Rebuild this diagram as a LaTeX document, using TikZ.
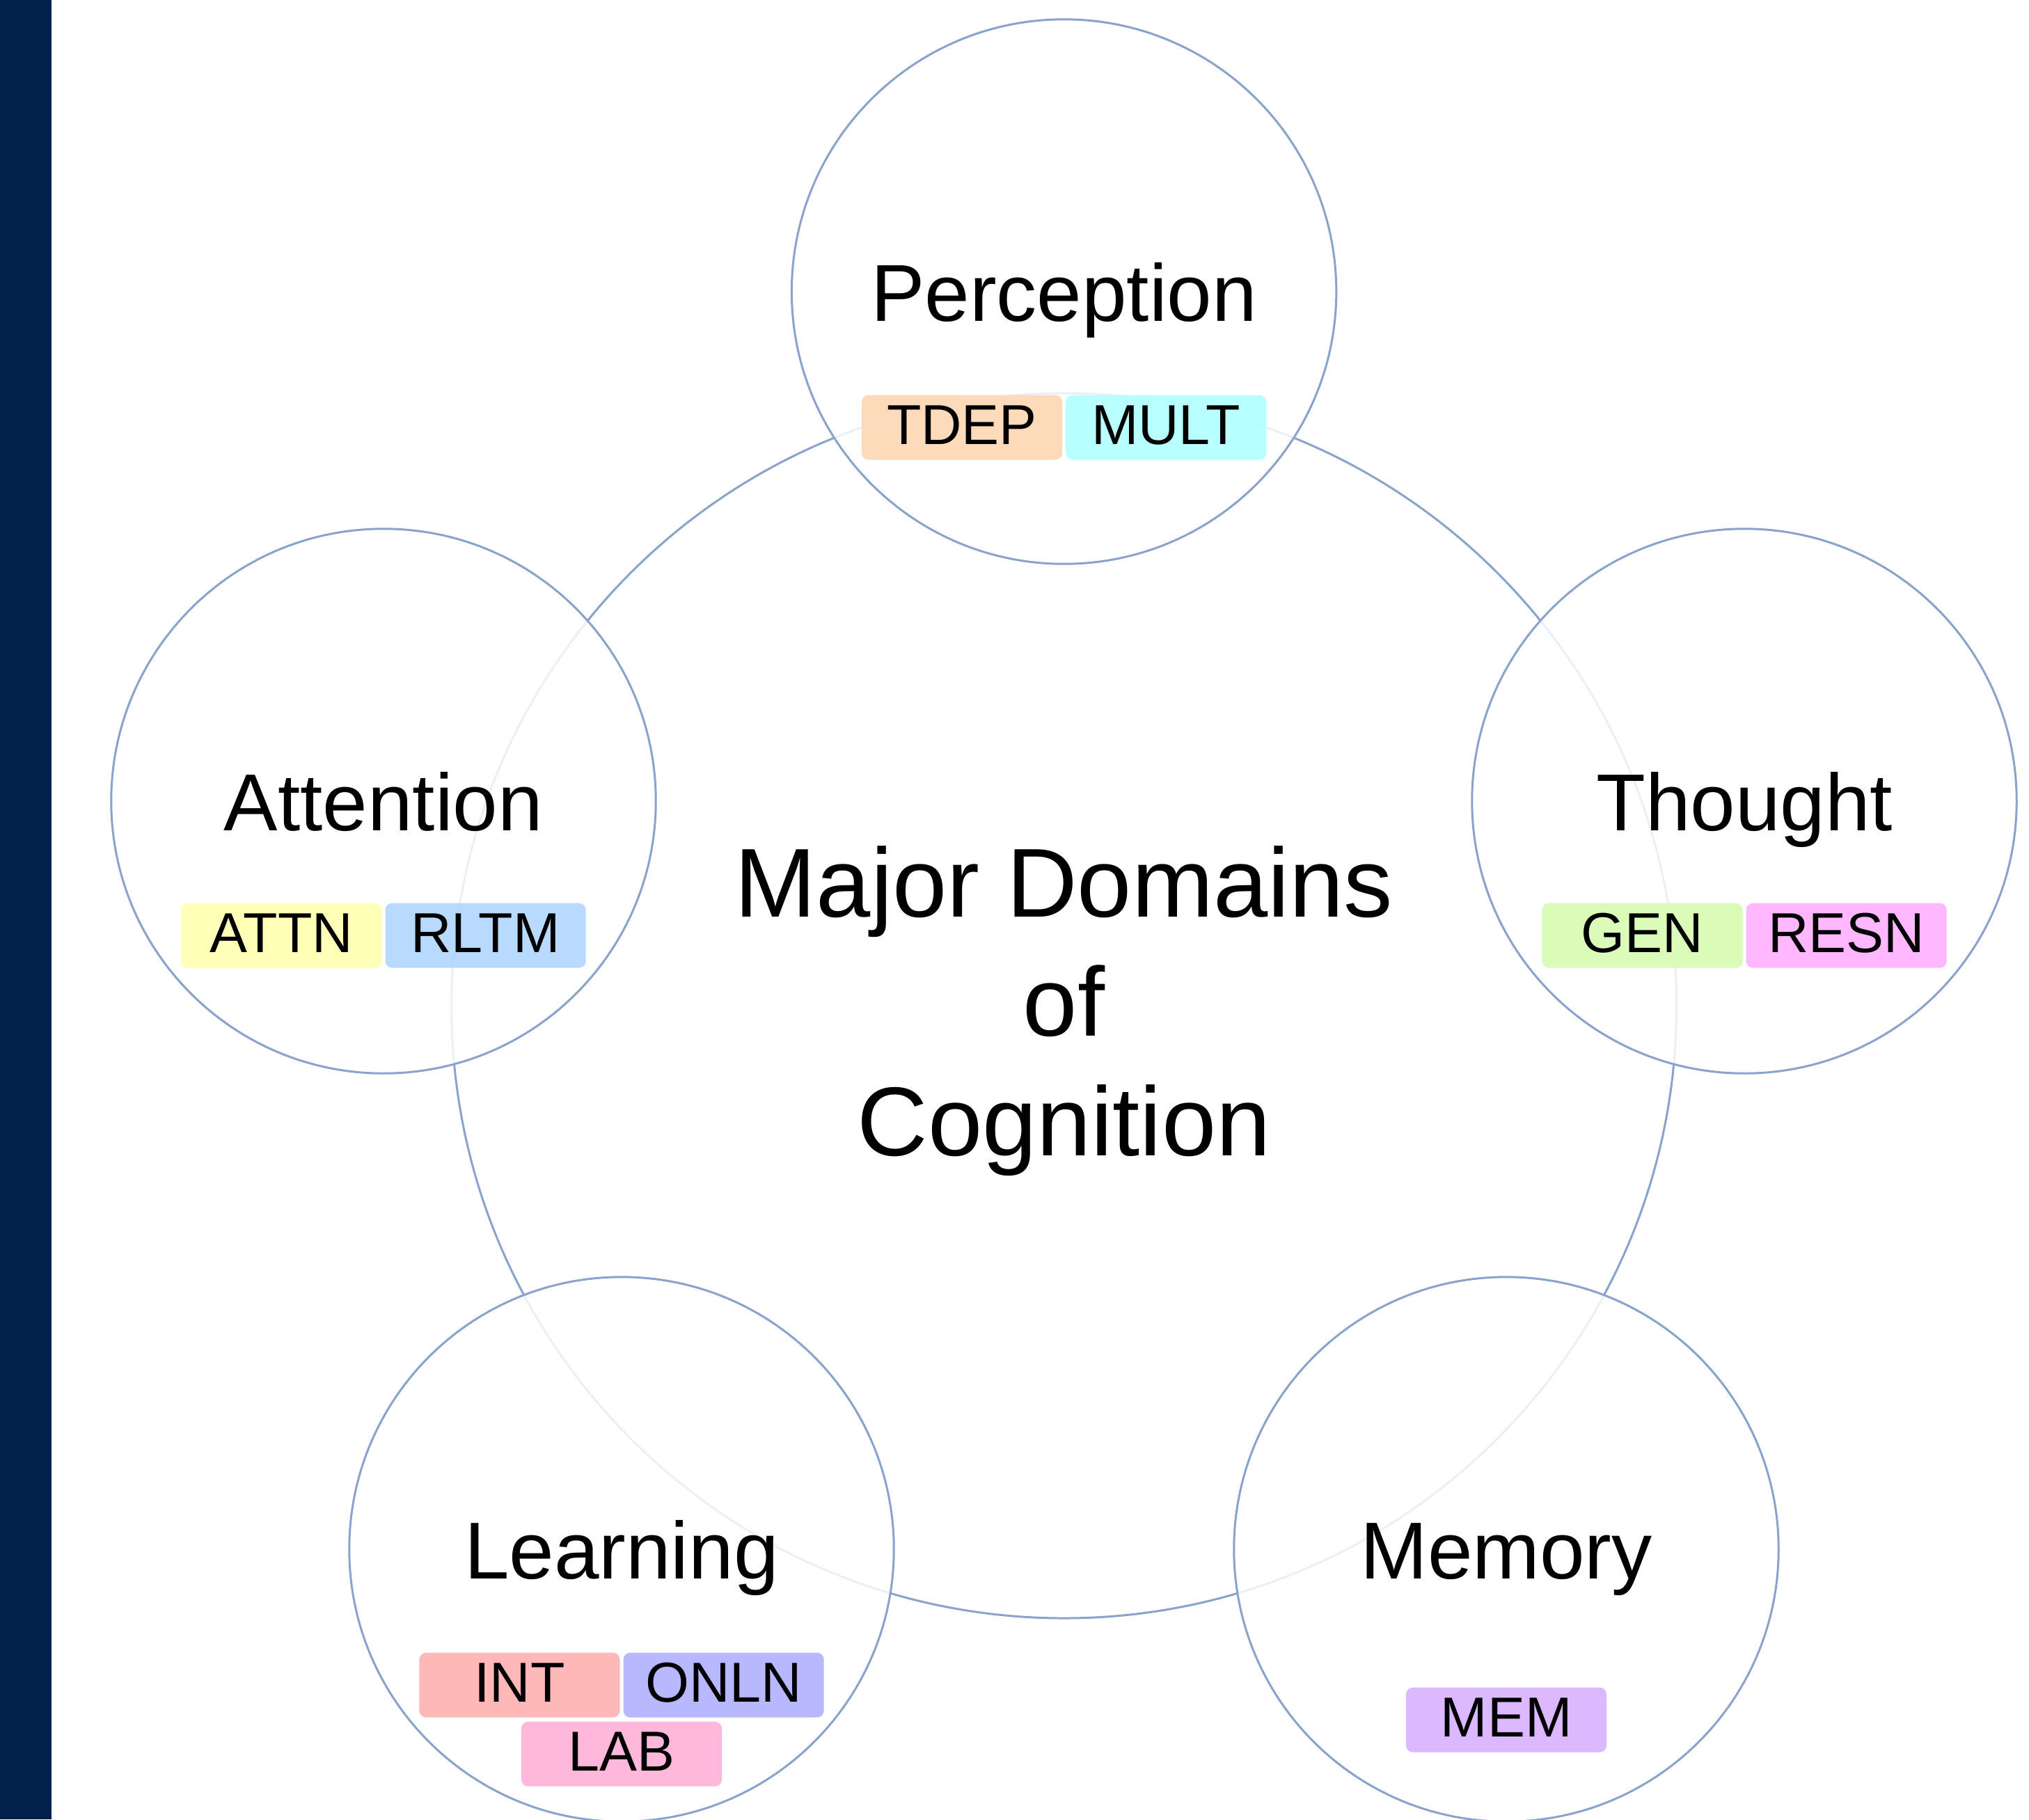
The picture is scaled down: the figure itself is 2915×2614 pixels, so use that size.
\documentclass[tikz,border=0pt]{standalone}
\usepackage{fontspec}
\setmainfont{Liberation Sans}
\definecolor{barnavy}{RGB}{2,34,77}
\definecolor{ringblue}{RGB}{138,163,204}
\definecolor{cTDEP}{RGB}{253,216,181}
\definecolor{cMULT}{RGB}{179,255,255}
\definecolor{cATTN}{RGB}{255,255,179}
\definecolor{cRLTM}{RGB}{179,215,255}
\definecolor{cGEN}{RGB}{217,251,180}
\definecolor{cRESN}{RGB}{255,179,255}
\definecolor{cINT}{RGB}{255,179,179}
\definecolor{cONLN}{RGB}{179,179,255}
\definecolor{cLAB}{RGB}{255,179,217}
\definecolor{cMEM}{RGB}{217,179,255}
\tikzset{
  corering/.style={circle, draw=ringblue, line width=0.85pt, minimum size=17.59cm, inner sep=0pt},
  domcircle/.style={circle, draw=ringblue, line width=0.85pt, fill=white, fill opacity=0.84,
    minimum size=7.82cm, inner sep=0pt},
  domlabel/.style={anchor=base, inner sep=0pt, font=\fontsize{33}{40}\selectfont},
  titleline/.style={anchor=base, inner sep=0pt, font=\fontsize{40}{48}\selectfont},
  tagbox/.style={rounded corners=0.1cm, fill=#1, fill opacity=0.92, text opacity=1,
    minimum width=2.88cm, minimum height=0.93cm, inner sep=0pt,
    text height=0.6cm, text depth=0.12cm, font=\fontsize{23}{27}\selectfont},
}
\begin{document}
\begin{tikzpicture}[x=0.01cm, y=-0.01cm]
  \useasboundingbox (0,0) rectangle (2915,2614);
  \fill[white] (0,0) rectangle (2915,2614);
  \fill[barnavy] (0,0) rectangle (74,2614);

  % central ring and title
  \node[corering] (core) at (1528.6,1445) {};
  \node[titleline] (t1) at (1528.6,1317) {Major Domains};
  \node[titleline] (t2) at (1528.6,1488) {of};
  \node[titleline] (t3) at (1528.6,1660) {Cognition};

  % domain circles
  \node[domcircle] (perc) at (1528.6,419) {};
  \node[domcircle] (thou) at (2506,1151) {};
  \node[domcircle] (attn) at (551,1151) {};
  \node[domcircle] (lear) at (893,2226) {};
  \node[domcircle] (memo) at (2164,2226) {};

  % domain names
  \node[domlabel] (percL) at ([yshift=-0.42cm]perc.center) {Perception};
  \node[domlabel] (thouL) at ([yshift=-0.42cm]thou.center) {Thought};
  \node[domlabel] (attnL) at ([yshift=-0.42cm]attn.center) {Attention};
  \node[domlabel] (learL) at ([yshift=-0.42cm]lear.center) {Learning};
  \node[domlabel] (memoL) at ([yshift=-0.42cm]memo.center) {Memory};

  % tags
  \node[tagbox=cTDEP] (tdep) at ([xshift=-1.465cm, yshift=-1.95cm]perc.center) {TDEP};
  \node[tagbox=cMULT] (mult) at ([xshift=1.465cm, yshift=-1.95cm]perc.center) {MULT};
  \node[tagbox=cATTN] (attnT) at ([xshift=-1.465cm, yshift=-1.93cm]attn.center) {ATTN};
  \node[tagbox=cRLTM] (rltm) at ([xshift=1.465cm, yshift=-1.93cm]attn.center) {RLTM};
  \node[tagbox=cGEN] (gen) at ([xshift=-1.465cm, yshift=-1.93cm]thou.center) {GEN};
  \node[tagbox=cRESN] (resn) at ([xshift=1.465cm, yshift=-1.93cm]thou.center) {RESN};
  \node[tagbox=cINT] (int) at ([xshift=-1.465cm, yshift=-1.95cm]lear.center) {INT};
  \node[tagbox=cONLN] (onln) at ([xshift=1.465cm, yshift=-1.95cm]lear.center) {ONLN};
  \node[tagbox=cLAB] (lab) at ([yshift=-2.94cm]lear.center) {LAB};
  \node[tagbox=cMEM] (mem) at ([yshift=-2.45cm]memo.center) {MEM};
\end{tikzpicture}
\end{document}
